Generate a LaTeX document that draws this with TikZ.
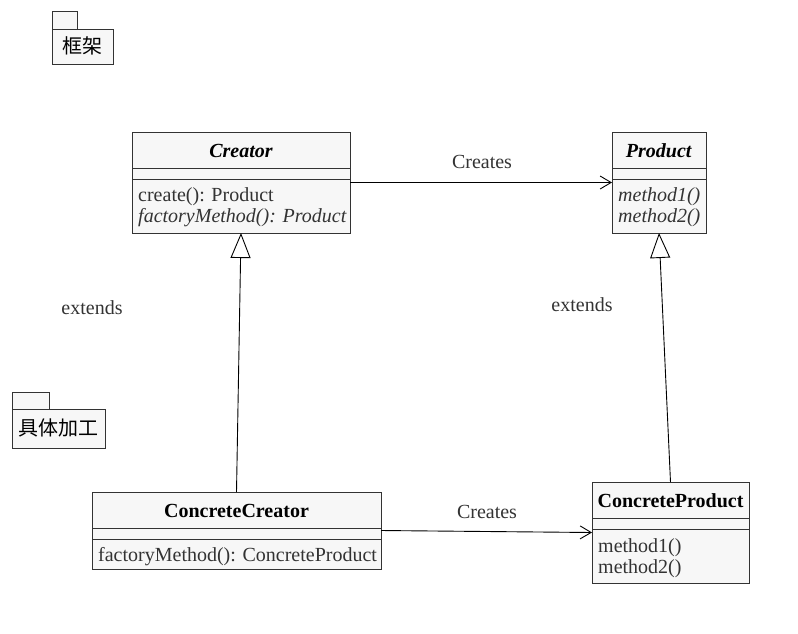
\documentclass[tikz,border=0pt]{standalone}
\usepackage{fontspec}
\setmainfont{Liberation Serif}
\newfontfamily\cjk{Noto Sans CJK SC}
\usetikzlibrary{arrows.meta}
\definecolor{boxfill}{HTML}{F7F7F7}
\definecolor{ink}{HTML}{333333}
\begin{document}
\begin{tikzpicture}[x=1pt,y=-1pt,
  font=\fontsize{20}{21}\selectfont,
  cls/.style={draw=ink, fill=boxfill, line width=1pt, anchor=north west, inner sep=0pt, outer sep=0pt},
  pkg/.style={draw=ink, fill=boxfill, line width=1pt, anchor=north west, inner sep=0pt, outer sep=0pt},
  divline/.style={draw=ink, line width=1pt},
  ttl/.style={text=black, inner sep=0pt, anchor=center},
  mem/.style={text=ink, inner sep=0pt, anchor=west},
  lbl/.style={text=ink, inner sep=0pt, anchor=center},
  assoc/.style={draw=black, line width=0.9pt, -{Straight Barb[length=11pt,width=13pt,line width=0.9pt]}},
  inherit/.style={draw=black, line width=0.9pt, -{Triangle[open, fill=white, length=25pt, width=20pt, line width=0.9pt]}}
]
\useasboundingbox (0,0) rectangle (798,633);

% packages
\node[pkg, minimum width=25pt, minimum height=18pt] (fwtab) at (52,11) {};
\node[pkg, minimum width=61pt, minimum height=35pt] (fw) at (52,29) {};
\node[lbl, text=black] (fwtext) at ([yshift=1pt]fw.center) {\cjk 框架};

\node[pkg, minimum width=37pt, minimum height=17pt] (cotab) at (12,392) {};
\node[pkg, minimum width=93pt, minimum height=39pt] (co) at (12,409) {};
\node[lbl, text=black] (cotext) at ([yshift=1pt]co.center) {\cjk 具体加工};

% Creator
\node[cls, minimum width=218pt, minimum height=101pt] (creator) at (132,132) {};
\draw[divline] ([yshift=-36pt]creator.north west) -- ([yshift=-36pt]creator.north east);
\draw[divline] ([yshift=-47pt]creator.north west) -- ([yshift=-47pt]creator.north east);
\node[ttl] (creatorT) at ([yshift=-19pt]creator.north) {\textbf{\textit{Creator}}};
\node[mem] (creatorM1) at (138,197) {create(): Product};
\node[mem] (creatorM2) at (138,218) {\textit{factoryMethod(): Product}};

% Product
\node[cls, minimum width=94pt, minimum height=101pt] (product) at (612,132) {};
\draw[divline] ([yshift=-36pt]product.north west) -- ([yshift=-36pt]product.north east);
\draw[divline] ([yshift=-47pt]product.north west) -- ([yshift=-47pt]product.north east);
\node[ttl] (productT) at ([yshift=-19pt]product.north) {\textbf{\textit{Product}}};
\node[mem] (productM1) at (618,197) {\textit{method1()}};
\node[mem] (productM2) at (618,218) {\textit{method2()}};

% ConcreteCreator
\node[cls, minimum width=289pt, minimum height=77pt] (cc) at (92,492) {};
\draw[divline] ([yshift=-36pt]cc.north west) -- ([yshift=-36pt]cc.north east);
\draw[divline] ([yshift=-47pt]cc.north west) -- ([yshift=-47pt]cc.north east);
\node[ttl] (ccT) at ([yshift=-19pt]cc.north) {\textbf{ConcreteCreator}};
\node[mem] (ccM1) at (98,557) {factoryMethod(): ConcreteProduct};

% ConcreteProduct
\node[cls, minimum width=157pt, minimum height=101pt] (cp) at (592,482) {};
\draw[divline] ([yshift=-36pt]cp.north west) -- ([yshift=-36pt]cp.north east);
\draw[divline] ([yshift=-47pt]cp.north west) -- ([yshift=-47pt]cp.north east);
\node[ttl] (cpT) at ([yshift=-19pt]cp.north) {\textbf{ConcreteProduct}};
\node[mem] (cpM1) at (598,548) {method1()};
\node[mem] (cpM2) at (598,569) {method2()};

% connectors
\draw[assoc] (creator.east) -- (product.west);
\draw[assoc] (cc.east) -- (cp.west);
\draw[inherit] (cc.north) -- (creator.south);
\draw[inherit] (cp.north) -- (product.south);

% labels
\node[lbl] (lab1) at (482,162) {Creates};
\node[lbl] (lab2) at (487,512) {Creates};
\node[lbl] (lab3) at (92,308) {extends};
\node[lbl] (lab4) at (582,305) {extends};
\end{tikzpicture}
\end{document}
